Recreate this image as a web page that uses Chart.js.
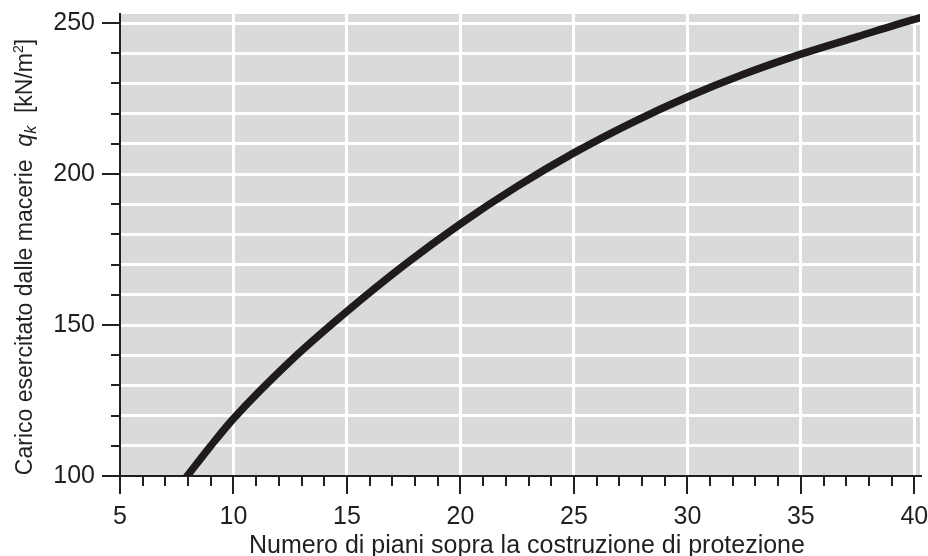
<!DOCTYPE html>
<html>
<head>
<meta charset="utf-8">
<script src="https://cdn.jsdelivr.net/npm/chart.js@4.4.1/dist/chart.umd.min.js"></script>
<style>
  html, body { margin: 0; padding: 0; background: #ffffff; }
  #wrap { width: 928px; height: 556px; }
</style>
</head>
<body>
<div id="wrap"><canvas id="chart" width="928" height="556"></canvas></div>
<script>
// Numero di piani (asse x) e carico delle macerie qk (asse y)
const floors = [7.9, 9, 10, 12.5, 15, 17.5, 20, 22.5, 25, 27.5, 30, 32.5, 35, 37.5, 40, 40.3];
const loads = [99.4, 110, 119, 138, 154.5, 169.7, 183.5, 195.9, 207, 216.8, 225.5, 233.1, 239.7, 245.5, 251.2, 251.8];

// Etichette degli assi
const xTickLabels = [5, 10, 15, 20, 25, 30, 35, 40];
const yTickLabels = [100, 150, 200, 250];
const xTitle = 'Numero di piani sopra la costruzione di protezione';
const yTitle = 'Carico esercitato dalle macerie  ';

const ink = '#231f20';
const font = '"Liberation Sans", Arial, Helvetica, sans-serif';

//Sfondo grigio dell'area del grafico
const plotBg = {
    id: 'plotBg',
    beforeDraw(chart) {
        const { ctx, chartArea: a } = chart;
        ctx.save();
        ctx.fillStyle = '#d9dadc';
        ctx.fillRect(a.left, a.top, a.right - a.left, a.bottom - a.top);
        ctx.restore();
    }
};

//Tacche maggiori e minori sugli assi + titoli con q in corsivo e pedici
const axisExtras = {
    id: 'axisExtras',
    afterDraw(chart) {
        const { ctx, chartArea: a } = chart;
        const sx = chart.scales.x, sy = chart.scales.y;
        ctx.save();
        ctx.strokeStyle = ink;
        ctx.lineWidth = 2;
        ctx.beginPath();
        for (let v = 5; v <= 40; v++) {
            const px = Math.round(sx.getPixelForValue(v));
            const len = v % 5 === 0 ? 18 : 10;
            ctx.moveTo(px, a.bottom);
            ctx.lineTo(px, a.bottom + len);
        }
        for (let v = 100; v <= 250; v += 10) {
            const py = Math.round(sy.getPixelForValue(v));
            const len = v % 50 === 0 ? 18 : 9;
            ctx.moveTo(a.left, py);
            ctx.lineTo(a.left - len, py);
        }
        ctx.stroke();

        // titolo asse x
        ctx.fillStyle = ink;
        ctx.font = '25px ' + font;
        ctx.textAlign = 'center';
        ctx.textBaseline = 'alphabetic';
        ctx.fillText(xTitle, 527, 553);

        // titolo asse y, ruotato
        const parts = [
            { t: yTitle, f: '23px ' + font, dy: 0 },
            { t: 'q', f: 'italic 23px ' + font, dy: 0 },
            { t: 'k', f: 'italic 16px ' + font, dy: 4 },
            { t: '  [kN/m', f: '23px ' + font, dy: 0 },
            { t: '2', f: '14px ' + font, dy: -9 },
            { t: ']', f: '23px ' + font, dy: 0 }
        ];
        let total = 0;
        parts.forEach(p => { ctx.font = p.f; p.w = ctx.measureText(p.t).width; total += p.w; });
        ctx.translate(32, 257);
        ctx.rotate(-Math.PI / 2);
        ctx.textAlign = 'left';
        let x = -total / 2;
        parts.forEach(p => {
            ctx.font = p.f;
            ctx.fillText(p.t, x, p.dy);
            x += p.w;
        });
        ctx.restore();
    }
};

new Chart(document.getElementById('chart'), {
    type: 'line',
    data: {
        datasets: [{
            data: floors.map((f, i) => ({ x: f, y: loads[i] })),
            borderColor: '#1e1a1d',
            borderWidth: 7.5,
            pointRadius: 0,
            fill: false,
            cubicInterpolationMode: 'monotone',
            clip: 0
        }]
    },
    options: {
        responsive: false,
        animation: false,
        devicePixelRatio: 1,
        layout: { padding: { left: 0, right: 8, top: 14, bottom: 0 } },
        plugins: { legend: { display: false }, tooltip: { enabled: false } },
        scales: {
            x: {
                type: 'linear',
                min: 5,
                max: 40.25,
                afterFit(scale) {
                    scale.height = 80;
                    scale.paddingLeft = 0;
                    scale.paddingRight = 0;
                },
                border: { color: ink, width: 2 },
                grid: {
                    drawTicks: false,
                    lineWidth: 3,
                    color: c => (c.tick && c.tick.value !== 5 && xTickLabels.includes(c.tick.value)) ? '#ffffff' : 'rgba(0,0,0,0)'
                },
                ticks: {
                    stepSize: 1,
                    includeBounds: false,
                    autoSkip: false,
                    maxRotation: 0,
                    padding: 26,
                    color: ink,
                    font: { family: font, size: 25 },
                    callback: v => xTickLabels.includes(v) ? String(v) : ''
                }
            },
            y: {
                min: 100,
                max: 253,
                afterFit(scale) {
                    scale.width = 120;
                    scale.paddingTop = 0;
                    scale.paddingBottom = 0;
                },
                border: { color: ink, width: 2 },
                grid: {
                    drawTicks: false,
                    lineWidth: 3,
                    color: c => (c.tick && c.tick.value > 100) ? '#ffffff' : 'rgba(0,0,0,0)'
                },
                ticks: {
                    stepSize: 10,
                    includeBounds: false,
                    autoSkip: false,
                    padding: 25,
                    color: ink,
                    font: { family: font, size: 25 },
                    callback: v => yTickLabels.includes(v) ? String(v) : ''
                }
            }
        }
    },
    plugins: [plotBg, axisExtras]
});
</script>
</body>
</html>
